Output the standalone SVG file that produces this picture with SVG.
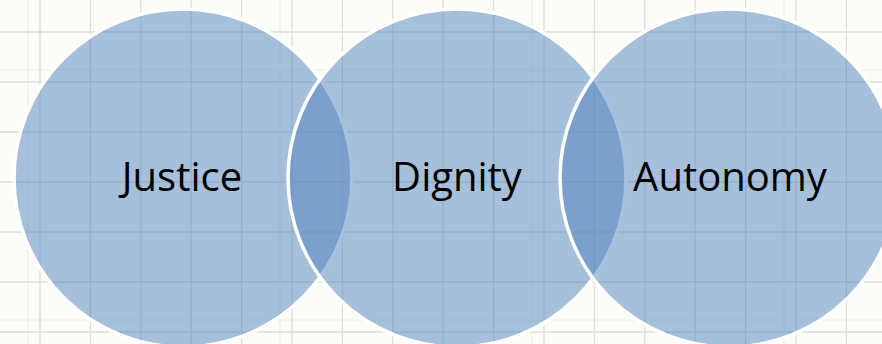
<svg xmlns="http://www.w3.org/2000/svg" width="882" height="344" viewBox="0 0 882 344">
  <defs>
    <style>
      .grid line { stroke: #dedfd7; stroke-width: 1.3; }
      .grid line.f { stroke: #eeeee8; stroke-width: 1; }
      .venn { fill: #4F81BD; fill-opacity: 0.5; stroke: #ffffff; stroke-width: 3.5; }
      .lbl { font-family: "Open Sans", "Liberation Sans", sans-serif; font-size: 40px; fill: #000000; text-anchor: middle; }
    </style>
  </defs>
  <rect x="0" y="0" width="882" height="344" fill="#fcfcf8"/>
  <g class="grid" id="grid">
    <line class="f" x1="28" y1="0" x2="28" y2="344"/>
    <line class="f" x1="280" y1="0" x2="280" y2="344"/>
    <line class="f" x1="532" y1="0" x2="532" y2="344"/>
    <line class="f" x1="784" y1="0" x2="784" y2="344"/>
    <line class="f" x1="0" y1="70" x2="882" y2="70"/>
    <line class="f" x1="0" y1="320" x2="882" y2="320"/>
    <line x1="40" y1="0" x2="40" y2="344"/>
    <line x1="90.4" y1="0" x2="90.4" y2="344"/>
    <line x1="140.8" y1="0" x2="140.8" y2="344"/>
    <line x1="191.2" y1="0" x2="191.2" y2="344"/>
    <line x1="241.6" y1="0" x2="241.6" y2="344"/>
    <line x1="292" y1="0" x2="292" y2="344"/>
    <line x1="342.4" y1="0" x2="342.4" y2="344"/>
    <line x1="392.8" y1="0" x2="392.8" y2="344"/>
    <line x1="443.2" y1="0" x2="443.2" y2="344"/>
    <line x1="493.6" y1="0" x2="493.6" y2="344"/>
    <line x1="544" y1="0" x2="544" y2="344"/>
    <line x1="594.4" y1="0" x2="594.4" y2="344"/>
    <line x1="644.8" y1="0" x2="644.8" y2="344"/>
    <line x1="695.2" y1="0" x2="695.2" y2="344"/>
    <line x1="745.6" y1="0" x2="745.6" y2="344"/>
    <line x1="796" y1="0" x2="796" y2="344"/>
    <line x1="846.4" y1="0" x2="846.4" y2="344"/>
    <line x1="0" y1="32" x2="882" y2="32"/>
    <line x1="0" y1="82" x2="882" y2="82"/>
    <line x1="0" y1="132" x2="882" y2="132"/>
    <line x1="0" y1="182" x2="882" y2="182"/>
    <line x1="0" y1="232" x2="882" y2="232"/>
    <line x1="0" y1="282" x2="882" y2="282"/>
    <line x1="0" y1="332" x2="882" y2="332"/>
  </g>
  <g id="connectors"></g>
  <g id="justice">
    <circle class="venn" cx="183" cy="178" r="169"/>
    <text class="lbl" x="182" y="191">Justice</text>
  </g>
  <g id="dignity">
    <circle class="venn" cx="457" cy="178" r="169"/>
    <text class="lbl" x="457" y="191">Dignity</text>
  </g>
  <g id="autonomy">
    <circle class="venn" cx="729" cy="178" r="169"/>
    <text class="lbl" x="730" y="191">Autonomy</text>
  </g>
</svg>
